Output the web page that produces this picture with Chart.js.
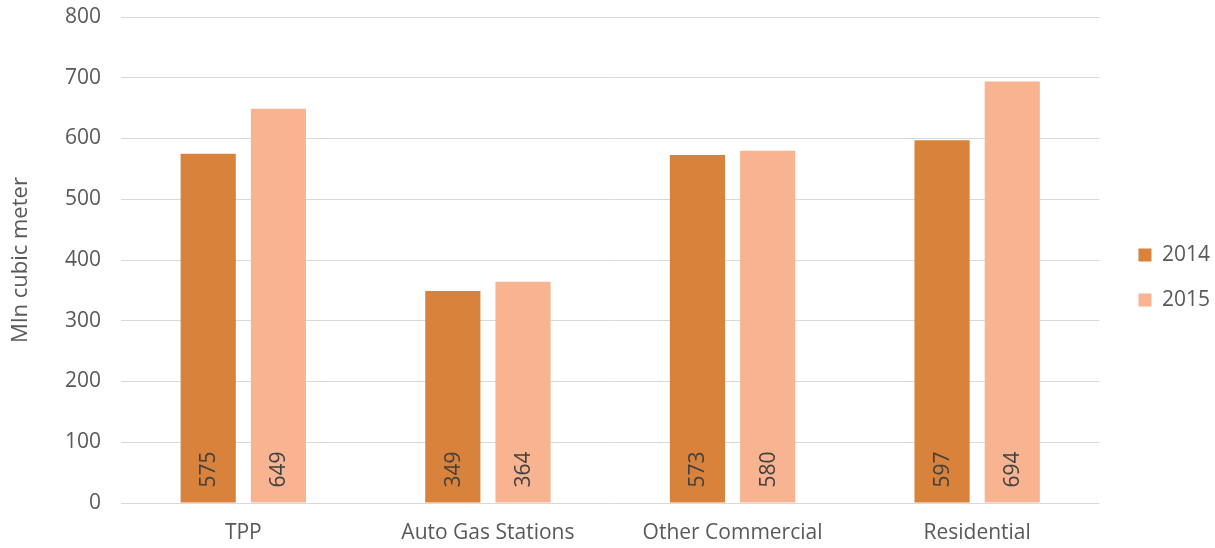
<!DOCTYPE html>
<html><head><meta charset="utf-8">
<script src="https://cdn.jsdelivr.net/npm/chart.js@4/dist/chart.umd.min.js"></script>
<style>html,body{margin:0;padding:0;background:#fff}#wrap{width:1215px;height:548px;position:relative}</style>
</head><body><div id="wrap"><canvas id="c" width="1215" height="548"></canvas></div>
<script>
const categories = ["TPP", "Auto Gas Stations", "Other Commercial", "Residential"];
const values2014 = [575, 349, 573, 597];
const values2015 = [649, 364, 580, 694];
const seriesNames = ["2014", "2015"];
const yTicks = [0, 100, 200, 300, 400, 500, 600, 700, 800];
const yTitle = "Mln cubic meter";

const FONT = "'Open Sans', sans-serif";
const labelPlugin = {
  id: 'barLabels',
  afterLayout(chart) {
    if (chart.legend) {
      chart.legend.left += 15; chart.legend.right += 15;
      chart.legend.top -= 5; chart.legend.bottom -= 5;
    }
  },
  afterDatasetsDraw(chart) {
    const ctx = chart.ctx;
    ctx.save();
    ctx.fillStyle = '#404040';
    ctx.font = '21px ' + FONT;
    chart.data.datasets.forEach((ds, i) => {
      chart.getDatasetMeta(i).data.forEach((bar, j) => {
        ctx.save();
        ctx.translate(bar.x, bar.base - 15);
        ctx.rotate(-Math.PI / 2);
        ctx.textAlign = 'left';
        ctx.textBaseline = 'middle';
        ctx.fillText(String(ds.data[j]), 0, 1);
        ctx.restore();
      });
    });
    ctx.restore();
  }
};

new Chart(document.getElementById('c'), {
  type: 'bar',
  data: {
    labels: categories,
    datasets: [
      { label: seriesNames[0], data: values2014, backgroundColor: '#D9823B', categoryPercentage: 0.574, barPercentage: 0.786 },
      { label: seriesNames[1], data: values2015, backgroundColor: '#F8B490', categoryPercentage: 0.574, barPercentage: 0.786 }
    ]
  },
  options: {
    responsive: false,
    animation: false,
    layout: { padding: { top: 17, right: 10, left: 0, bottom: 0 } },
    plugins: {
      tooltip: { enabled: false },
      legend: {
        position: 'right',
        labels: { boxWidth: 13, boxHeight: 13, padding: 24, color: '#595959', font: { family: FONT, size: 21 } }
      }
    },
    scales: {
      x: {
        afterFit(s) { s.height = 45; },
        grid: { display: false, drawTicks: false },
        border: { display: false },
        ticks: { color: '#595959', font: { family: FONT, size: 21 }, padding: 17 }
      },
      y: {
        min: 0, max: 800,
        afterFit(s) { s.width = 121; s.paddingTop = 0; s.paddingBottom = 0; },
        afterBuildTicks(s) { s.ticks = yTicks.map(v => ({ value: v })); },
        grid: { color: '#d9d9d9', lineWidth: 1, drawTicks: false },
        border: { display: false },
        ticks: { color: '#595959', font: { family: FONT, size: 21 }, padding: 20 },
        title: { display: true, text: yTitle, color: '#595959', font: { family: FONT, size: 22 }, padding: { top: 8, bottom: 0 } }
      }
    }
  },
  plugins: [labelPlugin]
});
</script></body></html>
